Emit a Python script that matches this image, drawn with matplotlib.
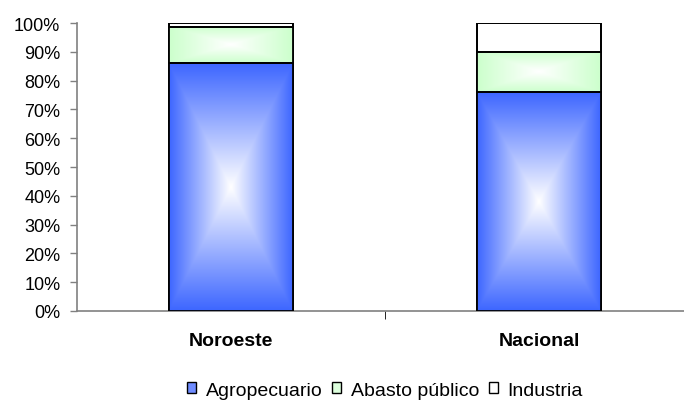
import numpy as np
import matplotlib
matplotlib.use("Agg")
import matplotlib.pyplot as plt
from matplotlib.colors import to_rgb
from matplotlib.patches import Rectangle

plt.rcParams['font.family'] = ['Liberation Sans', 'DejaVu Sans']

categories = ["Noroeste", "Nacional"]
series_names = ["Agropecuario", "Abasto público", "Industria"]
agropecuario = [86, 76]
abasto_publico = [12.6, 14]
industria = [1.4, 10]
y_ticks = [0, 10, 20, 30, 40, 50, 60, 70, 80, 90, 100]

edge_colors = ["#3D66FF", "#CCFFCC", "#FFFFFF"]

fig = plt.figure(figsize=(6.84, 4.02), dpi=100)
ax = fig.add_axes([0.1126, 0.224, 0.9006, 0.716])

x = np.arange(len(categories))
width = 0.40


def box_gradient(color, n=300):
    u = np.linspace(-1, 1, n)
    U, V = np.meshgrid(u, u)
    t = np.maximum(np.abs(U), np.abs(V))
    c = np.array(to_rgb(color))
    return (1 - t)[..., None] * np.ones(3) + t[..., None] * c


bottom = np.zeros(len(categories))
for name, vals, col in zip(series_names, [agropecuario, abasto_publico, industria], edge_colors):
    vals = np.array(vals, dtype=float)
    bars = ax.bar(x, vals, width, bottom=bottom, color=col, edgecolor="black",
                  linewidth=1.3, label=name, zorder=3)
    for b in bars:
        bx, by = b.get_x(), b.get_y()
        bw, bh = b.get_width(), b.get_height()
        if col.upper() != "#FFFFFF":
            im = ax.imshow(box_gradient(col), extent=(bx, bx + bw, by, by + bh),
                           aspect="auto", zorder=3.5, interpolation="bilinear")
            im.set_clip_path(Rectangle((bx, by), bw, bh, transform=ax.transData))
        ax.add_patch(Rectangle((bx, by), bw, bh, fill=False, edgecolor="black",
                               linewidth=1.3, zorder=4))
    bottom += vals

ax.set_xlim(-0.5, 1.5)
ax.set_ylim(0, 100)
ax.set_yticks(y_ticks)
ax.set_yticklabels([f"{t}%" for t in y_ticks], fontsize=13)
ax.set_xticks(x)
ax.set_xticklabels(categories, fontsize=14, fontweight="bold")
ax.tick_params(axis="x", length=0, pad=15)
ax.tick_params(axis="y", length=5, direction="out", color="#808080", width=1, pad=7)
ax.set_xticks([0.5], minor=True)
ax.tick_params(axis="x", which="minor", length=6, direction="out", color="black")

for s in ["top", "right"]:
    ax.spines[s].set_visible(False)
for s in ["left", "bottom"]:
    ax.spines[s].set_color("#808080")
    ax.spines[s].set_linewidth(1.2)

handles = [Rectangle((0, 0), 1, 1, facecolor=c, edgecolor="black", linewidth=1)
           for c in ["#6F8CFF", "#DDFFDD", "#FFFFFF"]]
fig.legend(handles, series_names, loc="center", bbox_to_anchor=(0.563, 0.027),
           ncol=3, frameon=False, fontsize=14, handlelength=0.46, handleheight=0.46,
           handletextpad=0.5, columnspacing=0.5, borderpad=0)

fig.savefig("out.png", dpi=100)
